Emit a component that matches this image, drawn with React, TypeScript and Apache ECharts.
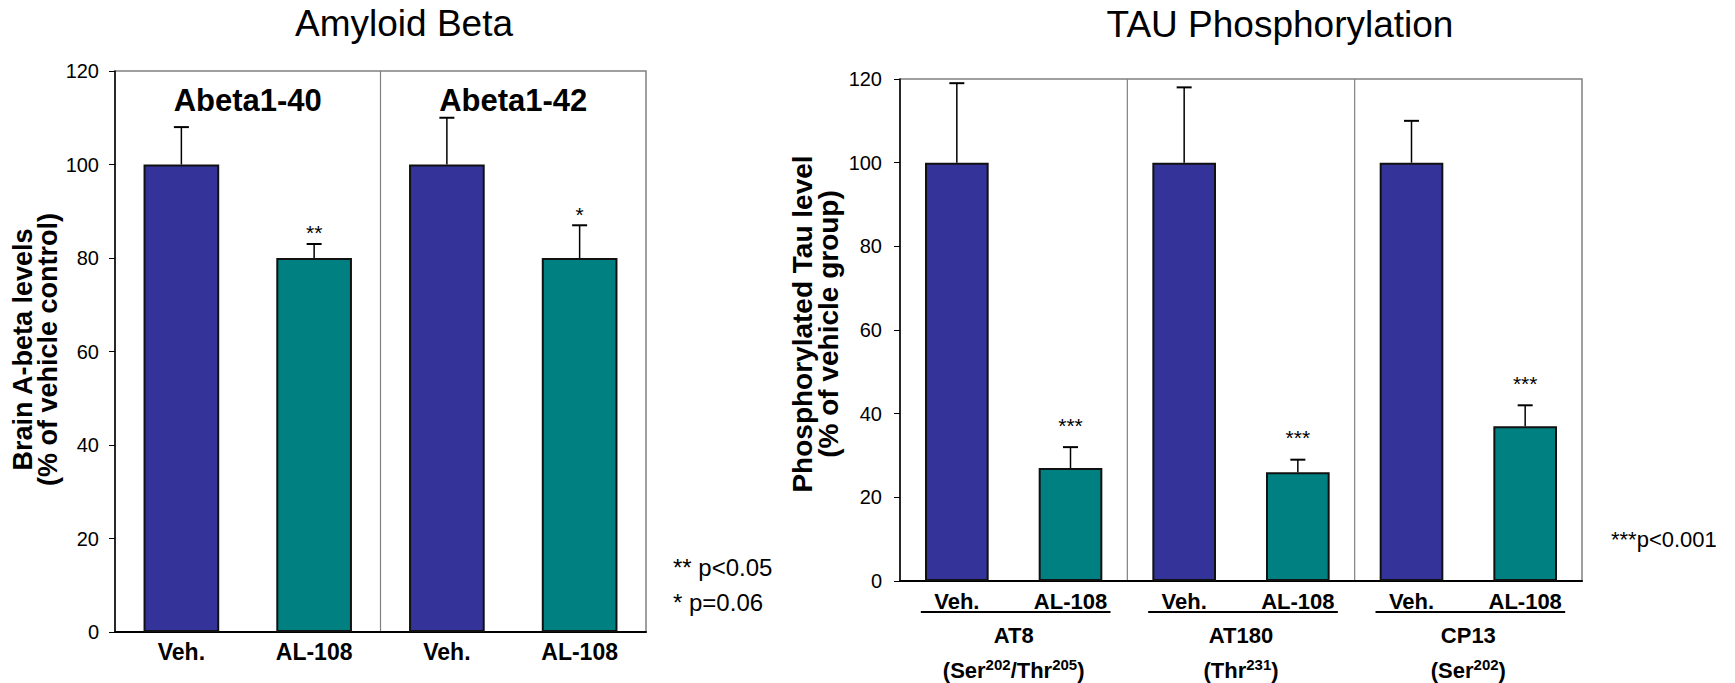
import React, { useEffect, useRef } from 'react';
import * as echarts from 'echarts';

const FONT = '"Liberation Sans", Arial, Helvetica, sans-serif';
const BLUE = '#333399';
const TEAL = '#008080';

// ---- data ----
const leftTitle = 'Amyloid Beta';
const leftCategories = ['Veh.', 'AL-108', 'Veh.', 'AL-108'];
const leftValues = [100, 80, 100, 80];
const leftErrors = [8, 3, 10, 7];
const leftSig = ['', '**', '', '*'];
const leftPanels = ['Abeta1-40', 'Abeta1-42'];
const leftYName = 'Brain A-beta levels\n(% of vehicle control)';
const leftNotes = ['** p<0.05', '* p=0.06'];

const rightTitle = 'TAU Phosphorylation';
const rightCategories = ['Veh.', 'AL-108', 'Veh.', 'AL-108', 'Veh.', 'AL-108'];
const rightValues = [100, 27, 100, 26, 100, 37];
const rightErrors = [19, 5, 18, 3, 10, 5];
const rightSig = ['', '***', '', '***', '', '***'];
const rightGroups = ['AT8', 'AT180', 'CP13'];
const rightGroupSites = ['(Ser{s|202}/Thr{s|205})', '(Thr{s|231})', '(Ser{s|202})'];
const rightYName = 'Phosphorylated Tau level\n(% of vehicle group)';
const rightNote = '***p<0.001';

const yMin = 0;
const yMax = 120;
const yInterval = 20;

function errorSeries(gridIdx: number, values: number[], errors: number[], sig: string[], sigOffset: number) {
  return {
    type: 'custom',
    xAxisIndex: gridIdx,
    yAxisIndex: gridIdx,
    data: values.map((v, i) => [i, v, v + errors[i]]),
    encode: { x: 0, y: 2 },
    z: 5,
    renderItem: (params: any, api: any) => {
      const i = api.value(0);
      const base = api.coord([i, api.value(1)]);
      const top = api.coord([i, api.value(2)]);
      const children: any[] = [
        { type: 'line', shape: { x1: base[0], y1: base[1], x2: top[0], y2: top[1] }, style: { stroke: '#000', lineWidth: 1.5 } },
        { type: 'line', shape: { x1: top[0] - 7.5, y1: top[1], x2: top[0] + 7.5, y2: top[1] }, style: { stroke: '#000', lineWidth: 2 } },
      ];
      const s = sig[params.dataIndex];
      if (s) {
        children.push({
          type: 'text',
          x: top[0],
          y: top[1] - sigOffset,
          style: { text: s, fontSize: 21, fontFamily: FONT, fill: '#000', align: 'center', verticalAlign: 'middle' },
        });
      }
      return { type: 'group', children };
    },
  };
}

function barSeries(gridIdx: number, values: number[], width: string) {
  return {
    type: 'bar',
    xAxisIndex: gridIdx,
    yAxisIndex: gridIdx,
    barWidth: width,
    data: values.map((v, i) => ({ value: v, itemStyle: { color: i % 2 === 0 ? BLUE : TEAL } })),
    itemStyle: { borderColor: '#111', borderWidth: 2 },
  };
}

function yAxis(gridIdx: number, margin: number) {
  return {
    gridIndex: gridIdx,
    type: 'value',
    min: yMin,
    max: yMax,
    interval: yInterval,
    axisLine: { show: true, lineStyle: { color: '#000', width: 1.5 } },
    axisTick: { show: true, length: 6, lineStyle: { color: '#000', width: 1 } },
    axisLabel: { fontSize: 20, color: '#000', fontFamily: FONT, margin },
    splitLine: { show: false },
  };
}

function xAxis(gridIdx: number, data: string[], fontSize: number, margin: number) {
  return {
    gridIndex: gridIdx,
    type: 'category',
    data,
    axisLine: { show: true, lineStyle: { color: '#000', width: 2 } },
    axisTick: { show: false },
    axisLabel: { interval: 0, fontSize, fontWeight: 'bold', color: '#000', fontFamily: FONT, margin },
  };
}

export default function App() {
  const ref = useRef<HTMLDivElement>(null);

  useEffect(() => {
    if (!ref.current) return;
    const chart = echarts.init(ref.current, null, { renderer: 'svg' });
    chart.setOption({
      animation: false,
      backgroundColor: '#fff',
      grid: [
        { left: 115, top: 71, width: 531, height: 561, show: true, borderColor: '#808080', borderWidth: 1.5, outerBoundsMode: 'none' },
        { left: 900, top: 79, width: 682, height: 502, show: true, borderColor: '#808080', borderWidth: 1.5, outerBoundsMode: 'none' },
      ],
      xAxis: [xAxis(0, leftCategories, 23, 8), xAxis(1, rightCategories, 22, 9)],
      yAxis: [yAxis(0, 16), yAxis(1, 18)],
      series: [
        barSeries(0, leftValues, '57%'),
        errorSeries(0, leftValues, leftErrors, leftSig, 11),
        barSeries(1, rightValues, '56%'),
        errorSeries(1, rightValues, rightErrors, rightSig, 22),
      ],
    });

    const px = (g: number, i: number, v: number) => chart.convertToPixel({ gridIndex: g } as any, [i, v]) as number[];
    const lTop = px(0, 0, yMax)[1];
    const lBottom = px(0, 0, yMin)[1];
    const rTop = px(1, 0, yMax)[1];
    const rBottom = px(1, 0, yMin)[1];

    const txt = (x: number, y: number, text: string, size: number, bold: boolean, align = 'center') => ({
      type: 'text',
      x,
      y,
      style: { text, fontSize: size, fontWeight: bold ? 'bold' : 'normal', fontFamily: FONT, fill: '#000', align, verticalAlign: 'middle' },
    });

    const graphic: any[] = [];
    graphic.push(txt(404, 23, leftTitle, 37, false));
    graphic.push(txt(1280, 24, rightTitle, 37, false));
    graphic.push({
      type: 'text', x: 35, y: (lTop + lBottom) / 2 - 2, rotation: Math.PI / 2,
      style: { text: leftYName, fontSize: 27, fontWeight: 'bold', fontFamily: FONT, fill: '#000', align: 'center', verticalAlign: 'middle', lineHeight: 25 },
    });
    graphic.push({
      type: 'text', x: 815, y: (rTop + rBottom) / 2 - 6, rotation: Math.PI / 2,
      style: { text: rightYName, fontSize: 28, fontWeight: 'bold', fontFamily: FONT, fill: '#000', align: 'center', verticalAlign: 'middle', lineHeight: 26 },
    });

    // left panels
    const lDiv = (px(0, 1, 0)[0] + px(0, 2, 0)[0]) / 2;
    graphic.push({ type: 'line', shape: { x1: lDiv, y1: lTop, x2: lDiv, y2: lBottom }, style: { stroke: '#808080', lineWidth: 1.2 } });
    leftPanels.forEach((t, k) => {
      const cx = (px(0, 2 * k, 0)[0] + px(0, 2 * k + 1, 0)[0]) / 2;
      graphic.push(txt(cx, lTop + 29, t, 31, true));
    });
    leftNotes.forEach((t, k) => {
      graphic.push(txt(673, 567 + k * 35, t, 24, false, 'left'));
    });

    // right panels
    [1, 3].forEach((i) => {
      const x = (px(1, i, 0)[0] + px(1, i + 1, 0)[0]) / 2;
      graphic.push({ type: 'line', shape: { x1: x, y1: rTop, x2: x, y2: rBottom }, style: { stroke: '#808080', lineWidth: 1.2 } });
    });
    rightGroups.forEach((t, k) => {
      const x0 = px(1, 2 * k, 0)[0];
      const x1 = px(1, 2 * k + 1, 0)[0];
      const cx = (x0 + x1) / 2;
      graphic.push({ type: 'line', shape: { x1: x0 - 36, y1: rBottom + 31, x2: x1 + 40, y2: rBottom + 31 }, style: { stroke: '#000', lineWidth: 2 } });
      graphic.push(txt(cx, rBottom + 54, t, 22, true));
      graphic.push({
        type: 'text', x: cx, y: rBottom + 89,
        style: {
          text: rightGroupSites[k], fontSize: 22, fontWeight: 'bold', fontFamily: FONT, fill: '#000', align: 'center', verticalAlign: 'middle', lineHeight: 27,
          rich: { s: { fontSize: 15, fontWeight: 'bold', fontFamily: FONT, fill: '#000', verticalAlign: 'top' } },
        },
      });
    });
    graphic.push(txt(1611, 539, rightNote, 22, false, 'left'));

    chart.setOption({ graphic });

    return () => chart.dispose();
  }, []);

  return <div ref={ref} style={{ position: 'fixed', left: 0, top: 0, width: 1735, height: 683, background: '#fff' }} />;
}
